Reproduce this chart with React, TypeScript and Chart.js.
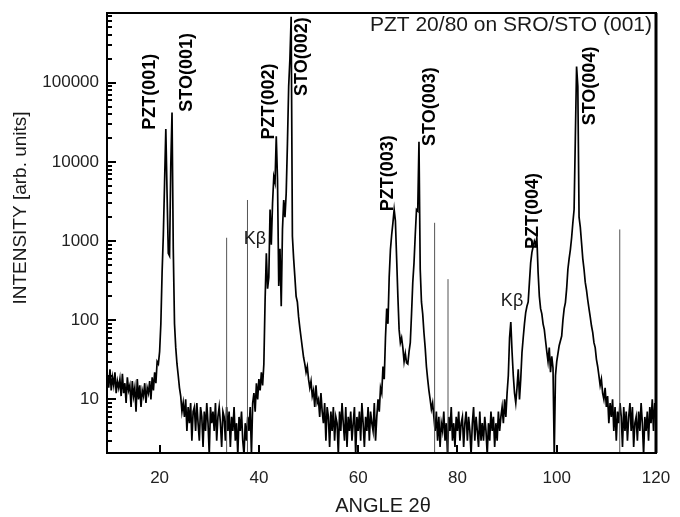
import React, { useEffect, useRef } from "react";
import { Chart, registerables } from "chart.js";

Chart.register(...registerables);

// Sampling grid of the diffraction scan (2θ in degrees)
const ANGLE_START = 9.5;
const ANGLE_STEP = 0.25;

// Intensity (arb. units), one value per grid step
const INTENSITY = [
  20, 14,
  24, 13, 19, 15,
  22, 12, 17, 14,
  18, 11, 21, 12,
  16, 9, 19, 13,
  15, 8, 17, 11,
  14, 7, 18, 10,
  15, 8, 13, 11,
  16, 9, 14, 12,
  17, 10, 19, 13,
  22, 16, 30, 28,
  40, 90, 400, 1200,
  5500, 26000, 4000, 700,
  650, 9000, 42000, 800,
  90, 45, 28, 20,
  14, 11, 7, 9,
  6, 10, 4, 8,
  5, 9, 3, 7,
  8, 4, 9, 5,
  3, 8, 6, 2.5,
  7, 4, 9, 5,
  2, 8, 5, 7,
  4, 9, 3, 6,
  8, 5, 2.5, 7,
  6, 3, 8, 4,
  7, 2.5, 6, 4,
  8, 3, 5, 2,
  6, 4, 7, 3,
  2, 5, 3, 6,
  4, 8, 2, 9,
  12, 7, 16, 10,
  18, 13, 22, 15,
  28, 180, 700, 250,
  350, 2500, 900, 3000,
  6500, 5500, 21000, 6000,
  270, 800, 150, 1400,
  3300, 2000, 4000, 17000,
  90000, 200000, 680000, 1150,
  600, 350, 200, 170,
  110, 80, 60, 45,
  34, 28, 22, 26,
  18, 14, 17, 11,
  13, 8, 15, 9,
  10, 6, 12, 7,
  5, 9, 3, 8,
  6, 2.5, 7, 4,
  8, 3, 6, 5,
  2, 7, 4, 9,
  5, 3, 8, 2.5,
  6, 4, 7, 3,
  5, 8, 2, 6,
  4, 7, 3, 9,
  5, 2.5, 6, 4,
  8, 3, 7, 5,
  4, 9, 3, 6,
  10, 7, 14, 12,
  26, 18, 60, 140,
  90, 350, 780, 1200,
  1700, 2500, 1800, 600,
  200, 76, 52, 60,
  45, 30, 38, 29,
  28, 40, 52, 120,
  300, 530, 1200, 2500,
  2400, 18000, 440, 170,
  120, 70, 45, 26,
  18, 13, 10, 7.5,
  9, 6, 4, 7,
  3, 6, 2.5, 5,
  4, 7, 3, 5,
  2, 6, 4, 8,
  3, 5, 2.5, 6,
  4, 7, 3, 5,
  6, 2.5, 5, 7,
  3, 6, 4, 2,
  5, 8, 3, 6,
  4, 2.5, 7, 3,
  5, 3, 6, 4,
  2, 5, 3, 7,
  4, 6, 2.5, 5,
  3, 7, 4, 6,
  8, 5, 10, 6,
  12, 20, 60, 95,
  40, 20, 12, 9,
  14, 24, 10, 18,
  39, 60, 90, 125,
  150, 170, 300, 530,
  720, 850, 1000, 900,
  1100, 400, 200, 140,
  120, 90, 76, 55,
  40, 30, 45, 22,
  35, 25, 2, 20,
  30, 38, 48, 55,
  63, 100, 140, 167,
  250, 440, 600, 780,
  1100, 1700, 2500, 20000,
  160000, 90000, 2000, 1500,
  950, 600, 440, 300,
  240, 180, 140, 110,
  85, 70, 52, 45,
  32, 26, 20, 15,
  18, 12, 10, 14,
  8, 11, 5, 9,
  6, 10, 4, 8,
  3, 7, 5, 9,
  6, 2.5, 8, 4,
  7, 3, 6, 9,
  4, 8, 2.5, 5,
  6, 3, 7, 4,
  9, 5, 2, 6,
  4, 7, 3, 8,
  5, 10, 4, 9,
  6,
];

// Thin grey vertical spikes in the scan
const SPIKE_ANGLES = [33.5, 37.7, 75.4, 78.1, 112.7];
const SPIKE_HEIGHTS = [1100, 3300, 1700, 330, 1400];

// Peak labels (rotated)
const PEAK_LABELS = ["PZT(001)", "STO(001)", "PZT(002)", "STO(002)", "PZT(003)", "STO(003)", "PZT(004)", "STO(004)"];
const PEAK_LABEL_ANGLES = [18.0, 25.6, 42.0, 48.6, 66.0, 74.4, 95.2, 106.7];
const PEAK_LABEL_VALUES = [77000, 135000, 58000, 214000, 7200, 50000, 2400, 91000];

// Kβ labels
const KB_LABELS = ["Kβ", "Kβ"];
const KB_ANGLES = [39.2, 91.0];
const KB_VALUES = [1050, 173];

const TITLE = "PZT 20/80 on SRO/STO (001)";
const X_TITLE = "ANGLE 2θ";
const Y_TITLE = "INTENSITY [arb. units]";

const X_MIN = 9.4;
const X_MAX = 120;
const Y_MIN = 2.1;
const Y_MAX = 760000;
const X_TICKS = [20, 40, 60, 80, 100, 120];
const Y_TICKS = [10, 100, 1000, 10000, 100000];

const FONT = '"Liberation Sans", Arial, sans-serif';

const annotate = {
  id: "annotate",
  afterDatasetsDraw(chart: any) {
    const { ctx, chartArea: a, scales } = chart;
    const x = scales.x;
    const y = scales.y;
    ctx.save();

    // frame
    ctx.strokeStyle = "#000";
    ctx.lineWidth = 2;
    ctx.strokeRect(a.left, a.top, a.right - a.left, a.bottom - a.top);
    ctx.lineWidth = 3;
    ctx.beginPath();
    ctx.moveTo(a.right, a.top);
    ctx.lineTo(a.right, a.bottom);
    ctx.stroke();

    // inward ticks
    ctx.lineWidth = 2;
    ctx.beginPath();
    for (const v of X_TICKS) {
      const px = Math.round(x.getPixelForValue(v));
      if (px >= a.right - 2) continue;
      ctx.moveTo(px, a.bottom);
      ctx.lineTo(px, a.bottom - 8);
    }
    for (let dec = 1; dec <= 1000000; dec *= 10) {
      for (let m = 1; m <= 9; m++) {
        const v = m * dec;
        if (v < Y_MIN || v > Y_MAX) continue;
        const py = Math.round(y.getPixelForValue(v));
        ctx.moveTo(a.left, py);
        ctx.lineTo(a.left + (m === 1 ? 9 : 5), py);
      }
    }
    ctx.stroke();

    // peak labels
    ctx.fillStyle = "#000";
    ctx.font = `bold 18px ${FONT}`;
    ctx.textAlign = "center";
    ctx.textBaseline = "middle";
    PEAK_LABELS.forEach((t, i) => {
      const px = x.getPixelForValue(PEAK_LABEL_ANGLES[i]);
      const py = y.getPixelForValue(PEAK_LABEL_VALUES[i]);
      ctx.save();
      ctx.translate(px, py);
      ctx.rotate(-Math.PI / 2);
      ctx.fillText(t, 0, 0);
      ctx.restore();
    });

    // Kβ labels
    ctx.fillStyle = "#1a1a1a";
    ctx.font = `18px ${FONT}`;
    KB_LABELS.forEach((t, i) => {
      ctx.fillText(t, x.getPixelForValue(KB_ANGLES[i]), y.getPixelForValue(KB_VALUES[i]));
    });

    // title inside plot
    ctx.font = `21px ${FONT}`;
    ctx.textAlign = "right";
    ctx.fillText(TITLE, a.right - 4, a.top + 12);

    // axis titles
    ctx.font = `20px ${FONT}`;
    ctx.textAlign = "center";
    ctx.fillText(X_TITLE, 383, 506);
    ctx.save();
    ctx.translate(21, 208);
    ctx.rotate(-Math.PI / 2);
    ctx.font = `19px ${FONT}`;
    ctx.fillText(Y_TITLE, 0, 0);
    ctx.restore();

    ctx.restore();
  },
};

export default function App() {
  const ref = useRef<HTMLCanvasElement>(null);

  useEffect(() => {
    document.body.style.margin = "0";
    const trace = INTENSITY.map((v, i) => ({ x: ANGLE_START + i * ANGLE_STEP, y: v }));
    const spikes: any[] = [];
    SPIKE_ANGLES.forEach((ang, i) => {
      spikes.push({ x: ang, y: 1 }, { x: ang, y: SPIKE_HEIGHTS[i] }, { x: ang + 0.01, y: null });
    });

    const chart = new Chart(ref.current!, {
      type: "line",
      data: {
        datasets: [
          {
            data: spikes,
            borderColor: "#555",
            borderWidth: 1,
            pointRadius: 0,
            spanGaps: false,
          },
          {
            data: trace,
            borderColor: "#000",
            borderWidth: 1.7,
            pointRadius: 0,
            tension: 0,
          },
        ],
      },
      options: {
        responsive: false,
        animation: false,
        devicePixelRatio: 1,
        layout: { padding: { top: 13, right: 24, left: 0, bottom: 0 } },
        plugins: { legend: { display: false }, tooltip: { enabled: false } },
        scales: {
          x: {
            type: "linear",
            min: X_MIN,
            max: X_MAX,
            grid: { display: false, drawTicks: false },
            border: { display: false },
            afterBuildTicks: (s: any) => {
              s.ticks = X_TICKS.map((v) => ({ value: v }));
            },
            afterFit: (s: any) => {
              s.height = 64;
              s.paddingLeft = 0;
              s.paddingRight = 0;
            },
            ticks: {
              padding: 15,
              maxRotation: 0,
              color: "#222",
              font: { family: FONT, size: 17 },
              callback: (v: any) => String(v),
            },
          },
          y: {
            type: "logarithmic",
            min: Y_MIN,
            max: Y_MAX,
            grid: { display: false, drawTicks: false },
            border: { display: false },
            afterBuildTicks: (s: any) => {
              s.ticks = Y_TICKS.map((v) => ({ value: v }));
            },
            afterFit: (s: any) => {
              s.width = 107;
              s.paddingTop = 0;
              s.paddingBottom = 0;
            },
            ticks: {
              padding: 8,
              color: "#222",
              font: { family: FONT, size: 17 },
              callback: (v: any) => String(v),
            },
          },
        },
      },
      plugins: [annotate],
    });
    return () => chart.destroy();
  }, []);

  return (
    <div style={{ width: 680, height: 517 }}>
      <canvas ref={ref} width={680} height={517} style={{ display: "block" }} />
    </div>
  );
}
